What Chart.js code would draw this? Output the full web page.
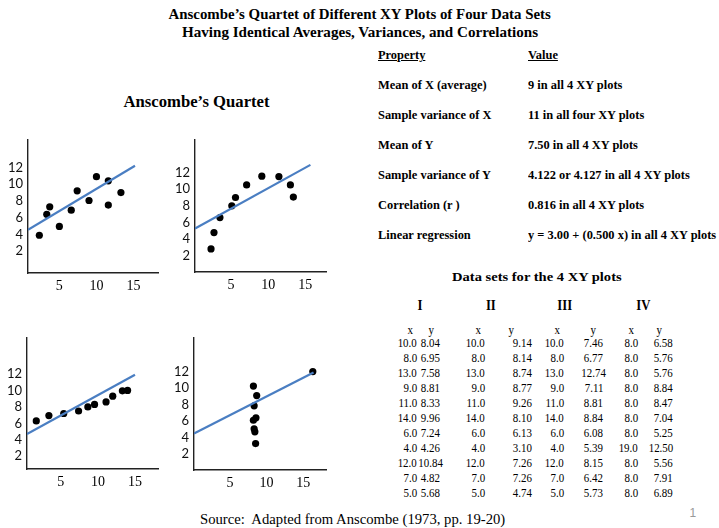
<!DOCTYPE html>
<html>
<head>
<meta charset="utf-8">
<script src="https://cdn.jsdelivr.net/npm/chart.js@4.4.1/dist/chart.umd.min.js"></script>
<style>
  html, body { margin: 0; padding: 0; background: #fff; }
  #page { position: relative; width: 719px; height: 528px; overflow: hidden; background: #fff; }
  #page canvas { position: absolute; }
  .lbl { position: absolute; white-space: pre; line-height: 1.15; color: #000; font-family: 'Liberation Serif', 'Times New Roman', serif; }
</style>
</head>
<body>
<div id="page"></div>
<script>
// tick labels shared by all four plots
const xTicks = [5, 10, 15];
const yTicks = [2, 4, 6, 8, 10, 12];

// Plot I
const dotsIx = [2.3, 3.3, 3.7, 5.0, 6.6, 7.4, 9.0, 10.0, 11.6, 11.6, 13.3];
const dotsIy = [3.9, 6.4, 7.3, 4.95, 6.9, 9.2, 8.05, 10.9, 10.4, 7.5, 9.0];
const fitIx = [0.77, 15.2];
const fitIy = [4.55, 12.2];

// Plot II
const dotsIIx = [2.3, 2.7, 3.5, 5.1, 5.6, 7.1, 9.15, 11.45, 13.0, 13.4];
const dotsIIy = [2.85, 4.8, 6.6, 8.0, 9.0, 10.5, 11.55, 11.5, 10.5, 9.05];
const fitIIx = [0.15, 15.7];
const fitIIy = [5.3, 12.9];

// Plot III
const dotsIIIx = [1.7, 3.4, 5.4, 7.4, 8.65, 9.55, 11.1, 12.0, 13.3, 14.0];
const dotsIIIy = [6.3, 6.95, 7.2, 7.5, 8.0, 8.3, 8.6, 9.3, 9.95, 10.0];
const fitIIIx = [0.45, 15.0];
const fitIIIy = [4.7, 11.9];

// Plot IV
const dotsIVx = [8.2, 8.65, 8.3, 8.55, 8.2, 8.3, 8.4, 8.5, 16.3];
const dotsIVy = [10.25, 9.1, 7.85, 6.4, 6.1, 5.07, 4.7, 3.27, 12.0];
const fitIVx = [0.1, 16.4];
const fitIVy = [4.5, 11.9];

// property table
const propNames = ['Mean of X (average)', 'Sample variance of X', 'Mean of Y', 'Sample variance of Y', 'Correlation (r )', 'Linear regression'];
const propValues = ['9 in all 4 XY plots', '11 in all four XY plots', '7.50 in all 4 XY plots', '4.122 or 4.127 in all 4 XY plots', '0.816 in all 4 XY plots', 'y = 3.00 + (0.500 x) in all 4 XY plots'];

// data sets table
const setNames = ['I', 'II', 'III', 'IV'];
const setXs = [
  ['10.0', '8.0', '13.0', '9.0', '11.0', '14.0', '6.0', '4.0', '12.0', '7.0', '5.0'],
  ['10.0', '8.0', '13.0', '9.0', '11.0', '14.0', '6.0', '4.0', '12.0', '7.0', '5.0'],
  ['10.0', '8.0', '13.0', '9.0', '11.0', '14.0', '6.0', '4.0', '12.0', '7.0', '5.0'],
  ['8.0', '8.0', '8.0', '8.0', '8.0', '8.0', '8.0', '19.0', '8.0', '8.0', '8.0']
];
const setYs = [
  ['8.04', '6.95', '7.58', '8.81', '8.33', '9.96', '7.24', '4.26', '10.84', '4.82', '5.68'],
  ['9.14', '8.14', '8.74', '8.77', '9.26', '8.10', '6.13', '3.10', '7.26', '7.26', '4.74'],
  ['7.46', '6.77', '12.74', '7.11', '8.81', '8.84', '6.08', '5.39', '8.15', '6.42', '5.73'],
  ['6.58', '5.76', '5.76', '8.84', '8.47', '7.04', '5.25', '12.50', '5.56', '7.91', '6.89']
];

const page = document.getElementById('page');

// place a text label; w = target width (squeezes horizontally), align = left|center|right
function label(text, x, y, font, opts) {
    opts = opts || {};
    const el = document.createElement('div');
    el.className = 'lbl';
    el.textContent = text;
    el.style.font = font;
    if (opts.color) el.style.color = opts.color;
    if (opts.underline) el.style.textDecoration = 'underline';
    page.appendChild(el);
    const w = el.offsetWidth, h = el.offsetHeight;
    const k = opts.w ? opts.w / w : (opts.k || 1);
    const align = opts.align || 'left';
    let left = x;
    if (align === 'center') left = x - w / 2;
    if (align === 'right') left = x - w;
    el.style.left = left + 'px';
    el.style.top = (y - h / 2) + 'px';
    el.style.transformOrigin = (align === 'left' ? 'left' : align === 'right' ? 'right' : 'center') + ' center';
    el.style.transform = 'scaleX(' + k + ')';
    return el;
}

function pts(xs, ys) {
    return xs.map((x, i) => ({ x: x, y: ys[i] }));
}

const AXIS_W = 30, AXIS_H = 24, PAD = 6;

function makePlot(box, xRange, yRange, dx, dy, fx, fy) {
    const cv = document.createElement('canvas');
    const left = box.left - AXIS_W, top = box.top - PAD;
    const width = box.right - left + PAD, height = box.bottom + AXIS_H - top;
    cv.width = width; cv.height = height;
    cv.style.left = left + 'px';
    cv.style.top = top + 'px';
    cv.style.width = width + 'px';
    cv.style.height = height + 'px';
    page.appendChild(cv);

    const border = { display: true, color: '#222', width: 1.4 };
    new Chart(cv.getContext('2d'), {
        type: 'scatter',
        data: {
            datasets: [{
                type: 'line',
                data: pts(fx, fy),
                borderColor: '#4a7ec2',
                borderWidth: 2.2,
                pointRadius: 0,
                fill: false,
                tension: 0
            }, {
                data: pts(dx, dy),
                backgroundColor: '#000',
                borderWidth: 0,
                pointRadius: 3.6
            }]
        },
        options: {
            responsive: false,
            animation: false,
            layout: { padding: { top: PAD, right: PAD, left: 0, bottom: 0 } },
            plugins: { legend: { display: false }, tooltip: { enabled: false } },
            scales: {
                x: {
                    type: 'linear',
                    min: xRange[0], max: xRange[1],
                    grid: { display: false, drawTicks: false },
                    border: border,
                    ticks: { padding: 5, color: '#000', font: { family: 'Liberation Serif', size: 14 } },
                    afterBuildTicks: s => { s.ticks = xTicks.map(v => ({ value: v })); },
                    afterFit: s => { s.height = AXIS_H; }
                },
                y: {
                    type: 'linear',
                    min: yRange[0], max: yRange[1],
                    grid: { display: false, drawTicks: false },
                    border: border,
                    ticks: { padding: 5, color: '#111', font: { family: 'Lato', size: 13 } },
                    afterBuildTicks: s => { s.ticks = yTicks.map(v => ({ value: v })); },
                    afterFit: s => { s.width = AXIS_W; }
                }
            }
        }
    });
}

makePlot({ left: 28, right: 158, top: 133, bottom: 273 }, [0.77, 18.3], [-0.61, 15.3], dotsIx, dotsIy, fitIx, fitIy);
makePlot({ left: 195, right: 326, top: 133, bottom: 272 }, [0.14, 17.8], [0.09, 15.9], dotsIIx, dotsIIy, fitIIx, fitIIy);
makePlot({ left: 27, right: 158, top: 331, bottom: 469 }, [0.45, 18.1], [0.45, 16.4], dotsIIIx, dotsIIIy, fitIIIx, fitIIIy);
makePlot({ left: 194, right: 326, top: 331, bottom: 470 }, [0.1, 18.1], [0.07, 16.1], dotsIVx, dotsIVy, fitIVx, fitIVy);

// titles
label('Anscombe\u2019s Quartet of Different XY Plots of Four Data Sets', 359, 14, 'bold 15px "Liberation Serif"', { align: 'center', w: 382 });
label('Having Identical Averages, Variances, and Correlations', 360, 32, 'bold 15px "Liberation Serif"', { align: 'center', w: 356 });
label('Anscombe\u2019s Quartet', 196, 102, 'bold 17px "Liberation Serif"', { align: 'center', w: 146 });

// property table
const PK = 0.955;
label('Property', 378, 55, 'bold 13px "Liberation Serif"', { underline: true, k: PK });
label('Value', 528, 55, 'bold 13px "Liberation Serif"', { underline: true, k: PK });
propNames.forEach((name, i) => {
    const y = 85 + i * 30;
    label(name, 378, y, 'bold 13px "Liberation Serif"', { k: PK });
    label(propValues[i], 528, y, 'bold 13px "Liberation Serif"', { k: PK });
});

// data sets table
label('Data sets for the 4 XY plots', 537, 277, 'bold 13px "Liberation Serif"', { align: 'center', w: 170 });
const setCenter = [420, 491, 565, 643];
const xHeadX = [410, 478, 557, 631];
const yHeadX = [431, 511, 593, 659];
const xRight = [417, 485, 564, 638];
const yAnchor = [430.5, 522, 593.5, 673];
const yAlign = ['center', 'center', 'center', 'right'];
const K = 0.84;
setNames.forEach((n, c) => {
    label(n, setCenter[c], 305, 'bold 15px "Liberation Serif"', { align: 'center', k: 0.85 });
    label('x', xHeadX[c], 330, '13px "Liberation Serif"', { align: 'center', k: K });
    label('y', yHeadX[c], 330, '13px "Liberation Serif"', { align: 'center', k: K });
    setXs[c].forEach((v, r) => {
        const y = 343.3 + r * 14.94;
        label(v, xRight[c], y, '13px "Liberation Serif"', { align: 'right', k: K });
        label(setYs[c][r], yAnchor[c], y, '13px "Liberation Serif"', { align: yAlign[c], k: K });
    });
});

label('Source:  Adapted from Anscombe (1973, pp. 19-20)', 352.5, 520, '14px "Liberation Serif"', { align: 'center', w: 305 });
label('1', 693, 513, '12px "Liberation Sans"', { align: 'center', color: '#999' });
</script>
</body>
</html>
